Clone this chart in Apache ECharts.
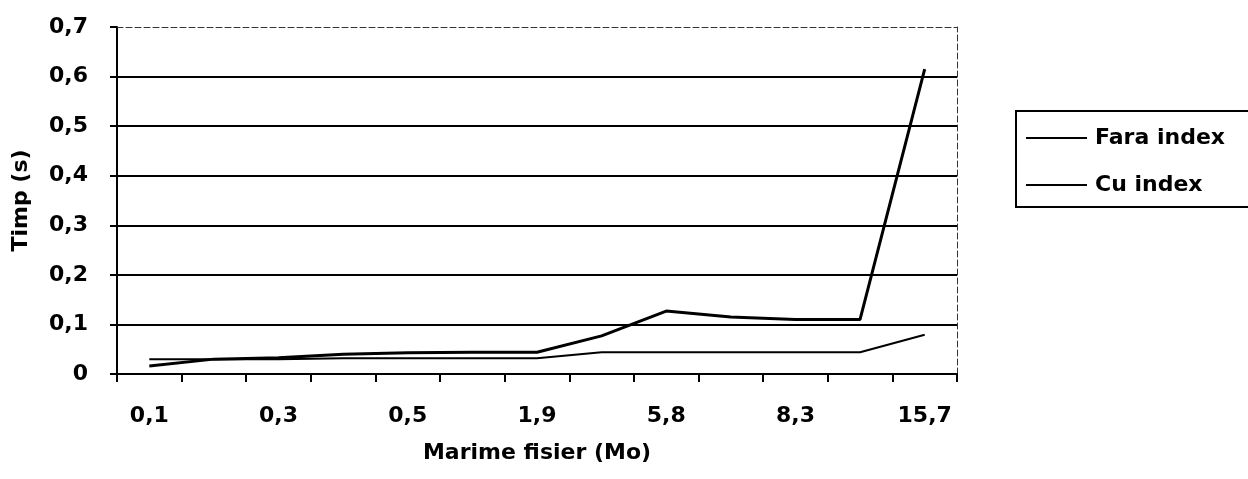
<!DOCTYPE html>
<html>
<head>
<meta charset="utf-8">
<script src="https://cdn.jsdelivr.net/npm/echarts@6/dist/echarts.min.js"></script>
<style>
  html, body { margin: 0; padding: 0; background: #fff; }
  #chart { width: 1248px; height: 479px; }
</style>
</head>
<body>
<div id="chart"></div>
<script>
// file sizes (Mo) - only every other one is labelled in the original
const categories = ['0,1', '0,2', '0,3', '0,4', '0,5', '1,0', '1,9', '3,8', '5,8', '7,0', '8,3', '11,5', '15,7'];
// time (s)
const faraIndex = [0.016, 0.03, 0.033, 0.04, 0.043, 0.044, 0.044, 0.077, 0.127, 0.115, 0.11, 0.11, 0.615];
const cuIndex = [0.03, 0.03, 0.03, 0.032, 0.032, 0.032, 0.032, 0.044, 0.044, 0.044, 0.044, 0.044, 0.079];
const yTicks = { min: 0, max: 0.7, interval: 0.1 };

const FONT = 'DejaVu Sans';
const FS = 22;
const fmtComma = v => (v === 0 ? '0' : v.toFixed(1).replace('.', ','));

const chart = echarts.init(document.getElementById('chart'));

const options = {
  animation: false,
  backgroundColor: '#fff',
  textStyle: { fontFamily: FONT, fontWeight: 'bold', color: '#000' },
  grid: { left: 117, right: 291, top: 27, bottom: 105, containLabel: false },
  legend: {
    orient: 'vertical',
    left: 1016,
    top: 111,
    padding: [16, 70, 11, 10],
    icon: 'rect',
    itemWidth: 61,
    itemHeight: 2,
    itemGap: 25,
    borderColor: '#000',
    borderWidth: 2,
    textStyle: { fontFamily: FONT, fontWeight: 'bold', fontSize: FS, color: '#000', padding: [0, 0, 0, 3] },
    data: ['Fara index', 'Cu index']
  },
  xAxis: [
    {
      type: 'category',
      data: categories,
      boundaryGap: true,
      name: 'Marime fisier (Mo)',
      nameLocation: 'middle',
      nameGap: 68,
      nameTextStyle: { fontFamily: FONT, fontWeight: 'bold', fontSize: FS, color: '#000' },
      axisLine: { lineStyle: { color: '#000', width: 2 } },
      axisTick: { show: true, interval: 0, length: 8, lineStyle: { color: '#000', width: 2 } },
      axisLabel: { interval: 1, margin: 31, fontFamily: FONT, fontWeight: 'bold', fontSize: FS, color: '#000' },
      splitLine: { show: false }
    },
    {
      type: 'category',
      data: categories,
      position: 'top',
      axisLine: { show: true, onZero: false, lineStyle: { color: '#333', width: 1, type: [6, 3] } },
      axisTick: { show: false },
      axisLabel: { show: false },
      splitLine: { show: false }
    }
  ],
  yAxis: [
    {
      type: 'value',
      min: yTicks.min,
      max: yTicks.max,
      interval: yTicks.interval,
      name: 'Timp (s)',
      nameLocation: 'middle',
      nameRotate: 90,
      nameGap: 85,
      nameTextStyle: { fontFamily: FONT, fontWeight: 'bold', fontSize: FS, color: '#000' },
      axisLine: { show: true, lineStyle: { color: '#000', width: 2 } },
      axisTick: { show: true, inside: false, length: 7, lineStyle: { color: '#000', width: 2 } },
      axisLabel: { margin: 29, fontFamily: FONT, fontWeight: 'bold', fontSize: FS, color: '#000', formatter: fmtComma },
      splitLine: { show: true, showMinLine: false, showMaxLine: false, lineStyle: { color: '#000', width: 2 } }
    },
    {
      type: 'value',
      min: yTicks.min,
      max: yTicks.max,
      interval: yTicks.interval,
      position: 'right',
      axisLine: { show: true, onZero: false, lineStyle: { color: '#333', width: 1, type: [6, 3] } },
      axisTick: { show: false },
      axisLabel: { show: false },
      splitLine: { show: false }
    }
  ],
  series: [
    {
      name: 'Fara index',
      type: 'line',
      data: faraIndex,
      symbol: 'none',
      itemStyle: { color: '#000' },
      lineStyle: { color: '#000', width: 3 },
      z: 5
    },
    {
      name: 'Cu index',
      type: 'line',
      data: cuIndex,
      symbol: 'none',
      itemStyle: { color: '#000' },
      lineStyle: { color: '#000', width: 2 },
      z: 5
    }
  ]
};

chart.setOption(options);
</script>
</body>
</html>
